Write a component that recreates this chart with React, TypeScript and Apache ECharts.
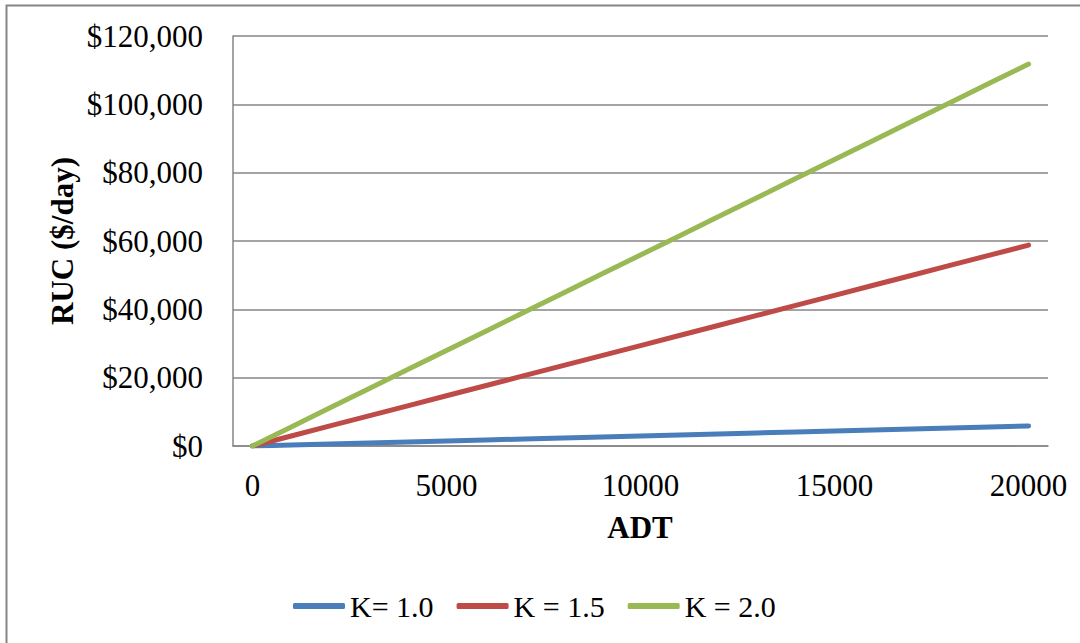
import React, { useEffect, useRef } from "react";
import * as echarts from "echarts";

const adtCategories = ["0","1000","2000","3000","4000","5000","6000","7000","8000","9000","10000","11000","12000","13000","14000","15000","16000","17000","18000","19000","20000"];
const seriesNames = ["K= 1.0", "K = 1.5", "K = 2.0"];
const k10 = [0, 293, 585, 878, 1170, 1463, 1756, 2048, 2341, 2634, 2926, 3219, 3512, 3804, 4097, 4390, 4682, 4975, 5268, 5560, 5850];
const k15 = [0, 2940, 5880, 8820, 11760, 14700, 17640, 20580, 23520, 26460, 29400, 32340, 35280, 38220, 41160, 44100, 47040, 49980, 52920, 55860, 58800];
const k20 = [0, 5590, 11180, 16770, 22360, 27950, 33540, 39130, 44720, 50310, 55900, 61490, 67080, 72670, 78260, 83850, 89440, 95030, 100620, 106210, 111800];
const colors = ["#4A7EBB", "#BE4B48", "#98B954"];

const FONT = "'Liberation Serif', 'Times New Roman', serif";

export default function App() {
  const ref = useRef<HTMLDivElement>(null);
  useEffect(() => {
    if (!ref.current) return;
    const chart = echarts.init(ref.current, undefined, { renderer: "svg" });
    const data = [k10, k15, k20];
    chart.setOption({
      animation: false,
      backgroundColor: "#ffffff",
      textStyle: { fontFamily: FONT, color: "#000" },
      grid: { left: 233, top: 36, right: 32, bottom: 197, containLabel: false },
      legend: {
        left: 288,
        top: 586,
        itemWidth: 52,
        itemHeight: 6,
        itemGap: 23,
        icon: "roundRect",
        textStyle: { fontFamily: FONT, fontSize: 30, color: "#000" },
        data: seriesNames,
      },
      xAxis: {
        type: "category",
        data: adtCategories,
        boundaryGap: true,
        axisLine: { show: true, lineStyle: { color: "#868686", width: 1.5 } },
        axisTick: { show: false },
        axisLabel: { interval: 4, margin: 24, fontSize: 31, fontFamily: FONT, color: "#000" },
        splitLine: { show: false },
      },
      yAxis: {
        type: "value",
        min: 0,
        max: 120000,
        interval: 20000,
        axisLine: { show: true, lineStyle: { color: "#868686", width: 1.5 } },
        axisTick: { show: false },
        axisLabel: {
          margin: 30,
          fontSize: 31,
          fontFamily: FONT,
          color: "#000",
          formatter: (v: number) => "$" + v.toLocaleString("en-US"),
        },
        splitLine: { show: true, lineStyle: { color: "#868686", width: 1.5 } },
      },
      graphic: [
        {
          type: "rect",
          shape: { x: 6.5, y: 5.5, width: 1200, height: 800 },
          style: { fill: "none", stroke: "#868686", lineWidth: 2 },
          silent: true,
        },
        {
          type: "text",
          x: 62,
          y: 241,
          rotation: Math.PI / 2,
          style: {
            text: "RUC ($/day)",
            font: "bold 31px " + FONT,
            fill: "#000",
            textAlign: "center",
            textVerticalAlign: "middle",
          },
        },
        {
          type: "text",
          x: 640,
          y: 527,
          style: {
            text: "ADT",
            font: "bold 31px " + FONT,
            fill: "#000",
            textAlign: "center",
            textVerticalAlign: "middle",
          },
        },
      ],
      series: seriesNames.map((name, i) => ({
        name,
        type: "line",
        data: data[i],
        showSymbol: false,
        symbol: "none",
        color: colors[i],
        lineStyle: { color: colors[i], width: 5, cap: "round", join: "round" },
      })),
    });
    return () => chart.dispose();
  }, []);
  return (
    <div
      ref={ref}
      style={{ position: "fixed", left: 0, top: 0, width: 1080, height: 643, background: "#fff" }}
    />
  );
}
